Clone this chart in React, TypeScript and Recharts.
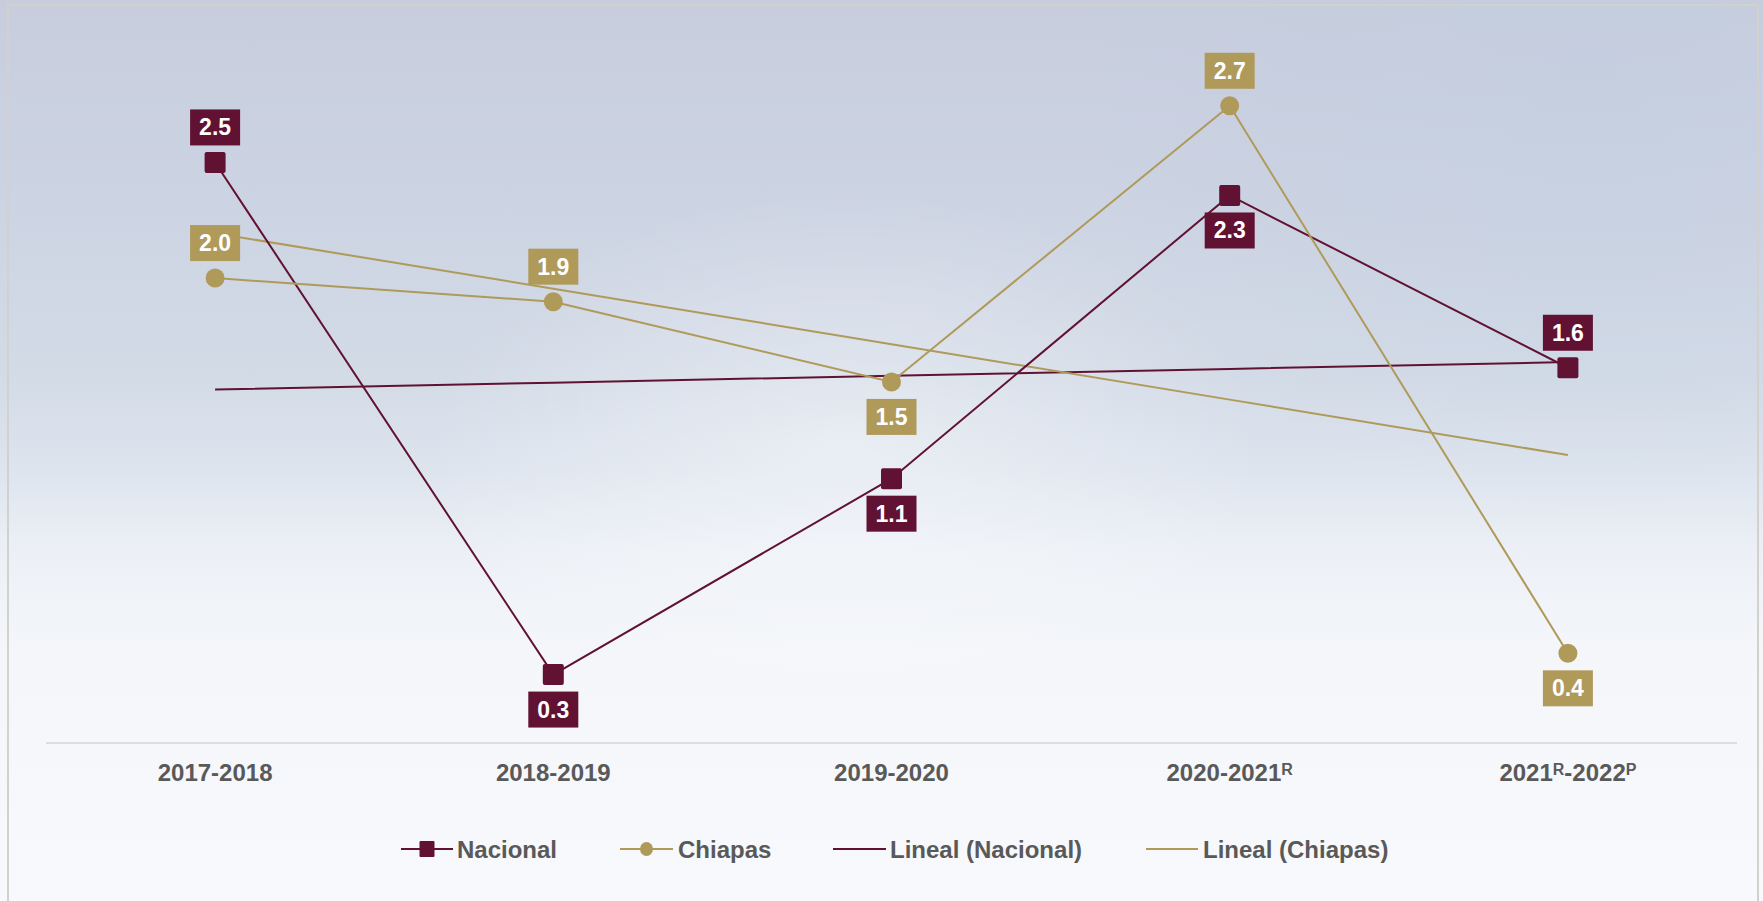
import React from 'react';
import { LineChart, Line, XAxis, YAxis, LabelList } from 'recharts';

if (typeof document !== 'undefined') {
  document.body.style.margin = '0';
  document.body.style.overflow = 'hidden';
}

const categories = ['2017-2018', '2018-2019', '2019-2020', '2020-2021^R', '2021^R-2022^P'];
const nacional = [2.46, 0.29, 1.12, 2.32, 1.59];
const chiapas = [1.97, 1.87, 1.53, 2.7, 0.38];
const seriesNames = ['Nacional', 'Chiapas', 'Lineal (Nacional)', 'Lineal (Chiapas)'];

const nacLabelSide = ['top', 'bottom', 'bottom', 'bottom', 'top'];
const chiLabelSide = ['top', 'top', 'bottom', 'top', 'bottom'];

const NAC = '#611232';
const CHI = '#B09A5A';
const TXT = '#595959';
const FONT = '"Liberation Sans", Arial, Helvetica, sans-serif';

function linearFit(vals: number[]): number[] {
  const n = vals.length;
  const xs = vals.map((_, i) => i);
  const mx = xs.reduce((a, b) => a + b, 0) / n;
  const my = vals.reduce((a, b) => a + b, 0) / n;
  let sxy = 0;
  let sxx = 0;
  for (let i = 0; i < n; i++) {
    sxy += (xs[i] - mx) * (vals[i] - my);
    sxx += (xs[i] - mx) * (xs[i] - mx);
  }
  const b = sxy / sxx;
  const a = my - b * mx;
  return xs.map((x) => a + b * x);
}

const trendNac = linearFit(nacional);
const trendChi = linearFit(chiapas);

const data = categories.map((c, i) => ({
  cat: c,
  nacional: nacional[i],
  chiapas: chiapas[i],
  trendNac: trendNac[i],
  trendChi: trendChi[i],
}));

function parseLabel(s: string) {
  return s.split(/(\^[A-Z])/).filter((p) => p.length > 0);
}

const Tick = (props: any) => {
  const { x, y, payload } = props;
  const parts = parseLabel(String(payload.value));
  return (
    <text
      x={x}
      y={y + 30}
      textAnchor="middle"
      fill={TXT}
      fontFamily={FONT}
      fontWeight="bold"
      fontSize={24}
    >
      {parts.map((p, i) =>
        p.startsWith('^') ? (
          <tspan key={i} fontSize={16} dy={-6}>
            {p.slice(1)}
          </tspan>
        ) : (
          <tspan key={i} dy={i > 0 && parts[i - 1].startsWith('^') ? 6 : 0}>
            {p}
          </tspan>
        )
      )}
    </text>
  );
};

const makeLabel = (color: string, sides: string[]) => (props: any) => {
  const { x, y, value, index } = props;
  if (x == null || y == null) return null;
  const side = sides[index];
  const cy = side === 'top' ? y - 35 : y + 35;
  const w = 50;
  const h = 36;
  return (
    <g key={`lab-${color}-${index}`}>
      <rect x={x - w / 2} y={cy - h / 2} width={w} height={h} fill={color} />
      <text
        x={x}
        y={cy + 8}
        textAnchor="middle"
        fill="#ffffff"
        fontFamily={FONT}
        fontWeight="bold"
        fontSize={23}
      >
        {Number(value).toFixed(1)}
      </text>
    </g>
  );
};

const SquareDot = (props: any) => {
  const { cx, cy, index } = props;
  if (cx == null || cy == null) return <g key={`sq-${index}`} />;
  return <rect key={`sq-${index}`} x={cx - 10.5} y={cy - 10.5} width={21} height={21} rx={2} fill={NAC} />;
};

const CircleDot = (props: any) => {
  const { cx, cy, index } = props;
  if (cx == null || cy == null) return <g key={`ci-${index}`} />;
  return <circle key={`ci-${index}`} cx={cx} cy={cy} r={9.5} fill={CHI} />;
};

const LegendBar = () => {
  const y = 849;
  const textStyle = { fontFamily: FONT, fontWeight: 'bold' as const, fontSize: 24, fill: TXT };
  return (
    <svg
      width={1763}
      height={901}
      style={{ position: 'absolute', left: 0, top: 0, pointerEvents: 'none' }}
    >
      <line x1={401} x2={453} y1={y} y2={y} stroke={NAC} strokeWidth={2} />
      <rect x={419.5} y={y - 8} width={15} height={16} rx={1} fill={NAC} />
      <text x={457} y={y + 8.5} {...textStyle}>{seriesNames[0]}</text>

      <line x1={620} x2={673} y1={y} y2={y} stroke={CHI} strokeWidth={2} />
      <ellipse cx={646.5} cy={y} rx={6.5} ry={7} fill={CHI} />
      <text x={678} y={y + 8.5} {...textStyle}>{seriesNames[1]}</text>

      <line x1={833} x2={886} y1={y} y2={y} stroke={NAC} strokeWidth={2} />
      <text x={890} y={y + 8.5} {...textStyle}>{seriesNames[2]}</text>

      <line x1={1146} x2={1198} y1={y} y2={y} stroke={CHI} strokeWidth={2} />
      <text x={1203} y={y + 8.5} {...textStyle}>{seriesNames[3]}</text>
    </svg>
  );
};

export default function App() {
  return (
    <div
      style={{
        position: 'relative',
        width: 1763,
        height: 901,
        overflow: 'hidden',
        background:
          'linear-gradient(180deg, #c7cddd 0%, #ccd3e2 22%, #d3dbe7 42%, #dde4ee 52%, #ecf0f6 61%, #f4f6fa 72%, #f7f9fc 100%)',
      }}
    >
      <div
        style={{
          position: 'absolute',
          inset: 0,
          background:
            'radial-gradient(ellipse 420px 260px at 48% 50%, rgba(255,255,255,0.4), rgba(255,255,255,0) 100%), radial-gradient(ellipse 500px 420px at 90% 10%, rgba(190,205,225,0.35), rgba(190,205,225,0) 100%)',
        }}
      />
      <div
        style={{
          position: 'absolute',
          left: 7,
          top: 4,
          width: 1752,
          height: 920,
          border: '2px solid #d2d1cc',
          boxSizing: 'border-box',
        }}
      />
      <div style={{ position: 'absolute', left: 0, top: 0 }}>
        <LineChart
          width={1763}
          height={901}
          data={data}
          margin={{ top: 35, right: 26, left: 46, bottom: 0 }}
        >
          <XAxis
            dataKey="cat"
            height={158}
            scale="band"
            axisLine={{ stroke: '#dcdde1', strokeWidth: 2 }}
            tickLine={false}
            tick={<Tick />}
            interval={0}
          />
          <YAxis hide domain={[0, 3]} />
          <Line
            dataKey="trendNac"
            stroke={NAC}
            strokeWidth={2}
            dot={false}
            activeDot={false}
            isAnimationActive={false}
          />
          <Line
            dataKey="trendChi"
            stroke={CHI}
            strokeWidth={2}
            dot={false}
            activeDot={false}
            isAnimationActive={false}
          />
          <Line
            dataKey="nacional"
            stroke={NAC}
            strokeWidth={2}
            dot={<SquareDot />}
            activeDot={false}
            isAnimationActive={false}
          >
            <LabelList dataKey="nacional" content={makeLabel(NAC, nacLabelSide)} />
          </Line>
          <Line
            dataKey="chiapas"
            stroke={CHI}
            strokeWidth={2}
            dot={<CircleDot />}
            activeDot={false}
            isAnimationActive={false}
          >
            <LabelList dataKey="chiapas" content={makeLabel(CHI, chiLabelSide)} />
          </Line>
        </LineChart>
      </div>
      <LegendBar />
    </div>
  );
}
